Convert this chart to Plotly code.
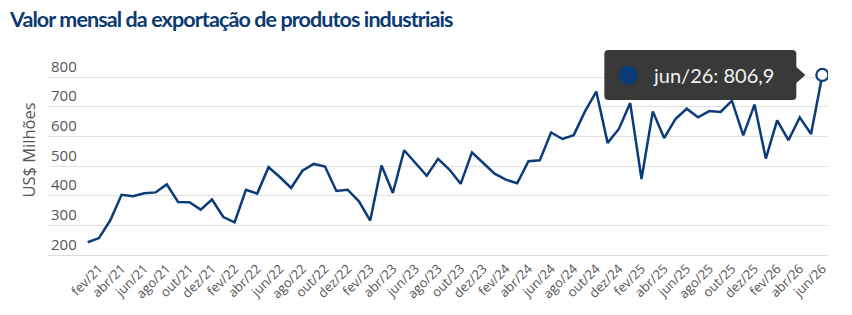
import plotly.graph_objects as go

month_names = ["jan", "fev", "mar", "abr", "mai", "jun", "jul", "ago", "set", "out", "nov", "dez"]
years = ["21", "22", "23", "24", "25", "26"]
categories = [f"{m}/{y}" for y in years for m in month_names][:66]

values = [243, 257, 317, 403, 398, 408, 411, 438, 379, 378, 353, 387,
          328, 310, 420, 407, 496, 463, 426, 484, 507, 498, 416, 420,
          381, 316, 502, 409, 553, 510, 467, 524, 488, 440, 546, 510,
          474, 454, 442, 516, 519, 613, 591, 604, 684, 751, 578, 625,
          712, 456, 684, 594, 658, 693, 664, 685, 682, 720, 603, 707,
          525, 654, 587, 664, 608, 806.9]

tick_labels = categories[1::2]
y_ticks = [200, 300, 400, 500, 600, 700, 800]

NAVY = "#0b3b78"
TITLE = "#0c3a72"
GRAY = "#555555"

fig = go.Figure()
fig.add_trace(go.Scatter(x=categories, y=values, mode="lines",
                         line=dict(color=NAVY, width=2.5), hoverinfo="skip"))
fig.add_trace(go.Scatter(x=[categories[-1]], y=[values[-1]], mode="markers",
                         marker=dict(size=12, color="white", line=dict(color=NAVY, width=2.2)),
                         hoverinfo="skip"))

last_x = categories[-1]
last_y = values[-1]
tip_path = ("M -214,25 L -30,25 Q -26,25 -26,21 L -26,8 L -17,0 L -26,-8 L -26,-21 "
            "Q -26,-25 -30,-25 L -214,-25 Q -218,-25 -218,-21 L -218,21 Q -218,25 -214,25 Z")
fig.add_shape(type="path", path=tip_path, xref="x", yref="y",
              xsizemode="pixel", ysizemode="pixel", xanchor=last_x, yanchor=last_y,
              fillcolor="rgba(51,51,51,0.97)", line=dict(width=0), layer="above")
fig.add_shape(type="circle", xref="x", yref="y", xsizemode="pixel", ysizemode="pixel",
              xanchor=last_x, yanchor=last_y, x0=-203.5, x1=-184.5, y0=-9.5, y1=9.5,
              fillcolor=NAVY, line=dict(width=0), layer="above")
label_text = f"{last_x}: {last_y:.1f}".replace(".", ",")
fig.add_annotation(x=last_x, y=last_y, xref="x", yref="y", text=label_text,
                   showarrow=False, xshift=-109, yshift=0,
                   font=dict(family="Lato, Open Sans", size=20, color="#f2f2f2"))

title_text = ("<span style='letter-spacing:-0.9px'><b>"
              "Valor mensal da exportação de produtos industriais</b></span>")

fig.update_layout(
    width=852, height=315,
    margin=dict(l=48, r=24, t=45, b=60),
    paper_bgcolor="white", plot_bgcolor="white",
    showlegend=False,
    title=dict(text=title_text,
               x=10 / 852, xanchor="left", xref="container",
               y=1 - 19 / 315, yanchor="middle", yref="container",
               font=dict(family="Lato", size=21.5, color=TITLE, weight=900)),
    xaxis=dict(type="category", range=[-3.51, 65.5],
               tickmode="array", tickvals=tick_labels, ticktext=tick_labels,
               tickangle=-45, tickfont=dict(family="Open Sans", size=13, color=GRAY),
               showgrid=False, showline=True, linecolor="#dcdcdc", linewidth=1,
               ticks="", zeroline=False),
    yaxis=dict(range=[200, 200 + 210 / 0.29667], tickvals=y_ticks,
               ticklabelposition="inside top",
               tickfont=dict(family="Open Sans", size=15, color=GRAY),
               showgrid=True, gridcolor="#e1e1e1", gridwidth=1, zeroline=False,
               title=dict(text="US$ Milhões", standoff=11,
                          font=dict(family="Open Sans", size=16.5, color=GRAY))),
)

fig.write_html("out.html")
